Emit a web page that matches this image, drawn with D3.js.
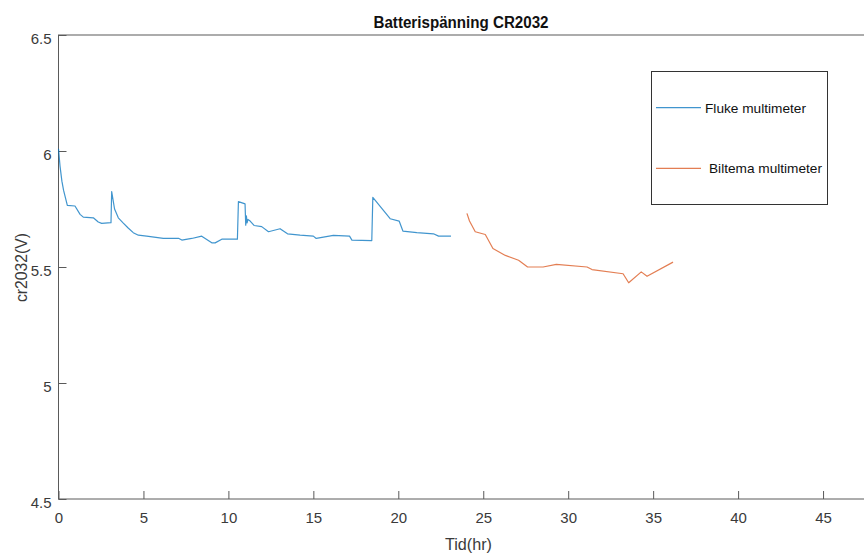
<!DOCTYPE html>
<html>
<head>
<meta charset="utf-8">
<script src="https://cdn.jsdelivr.net/npm/d3@7"></script>
<style>
  body { margin: 0; background: #fff; }
  text { font-family: "Liberation Sans", Arial, sans-serif; }
</style>
</head>
<body>
<script>
// Fluke multimeter readings (hours, volts)
let flukeT = [0, 0.09, 0.2, 0.3, 0.52, 0.97, 1.27, 1.46, 2.05, 2.34, 2.54, 3.09, 3.13, 3.3, 3.52, 3.8, 4.1, 4.4, 4.7, 5.19,
  6.17, 7.06, 7.26, 7.84, 8.43, 9.02, 9.22, 9.61, 10.53, 10.59, 10.98, 11.02, 11.06, 11.1, 11.15,
  11.28, 11.51, 11.96, 12.36, 13.04, 13.48, 14.22, 15.0, 15.17, 16.18, 17.13, 17.27, 18.44, 18.5,
  19.52, 20.05, 20.27, 21.09, 22.07, 22.37, 23.1];
let flukeV = [6.01, 5.935, 5.87, 5.83, 5.766, 5.763, 5.727, 5.715, 5.712, 5.694, 5.688, 5.691, 5.825, 5.75, 5.712, 5.69, 5.668, 5.648, 5.637, 5.633,
  5.623, 5.624, 5.616, 5.623, 5.633, 5.604, 5.604, 5.62, 5.62, 5.782, 5.772, 5.68, 5.72, 5.69, 5.705,
  5.698, 5.679, 5.674, 5.652, 5.665, 5.643, 5.637, 5.633, 5.623, 5.636, 5.633, 5.616, 5.614, 5.8,
  5.708, 5.698, 5.655, 5.648, 5.643, 5.633, 5.633];

// Biltema multimeter readings
let biltemaT = [24.04, 24.19, 24.53, 25.12, 25.57, 26.3, 27.08, 27.61, 28.52, 29.3, 31.11, 31.4, 33.23, 33.56, 34.3, 34.64, 36.17];
let biltemaV = [5.731, 5.698, 5.652, 5.64, 5.58, 5.55, 5.529, 5.5, 5.5, 5.511, 5.5, 5.489, 5.471, 5.432, 5.479, 5.46, 5.521];

let xTicks = [0, 5, 10, 15, 20, 25, 30, 35, 40, 45];
let yTicks = [4.5, 5, 5.5, 6, 6.5];
let seriesNames = ["Fluke multimeter", "Biltema multimeter"];
let seriesColors = ["#0072BD", "#D95319"];

let w = 864, h = 553;
let margin = {top: 35, left: 58.5, bottom: 54};
let plotW = 849.5;

let svg = d3.select("body").append("svg").attr("width", w).attr("height", h);

let x = d3.scaleLinear().domain([0, 50]).range([margin.left, margin.left + plotW]);
let y = d3.scaleLinear().domain([4.5, 6.5]).range([h - margin.bottom, margin.top]);

// axes box
svg.append("rect")
  .attr("x", x(0)).attr("y", y(6.5))
  .attr("width", x(50) - x(0)).attr("height", y(4.5) - y(6.5))
  .attr("fill", "none").attr("stroke", "#5a5a5a").attr("stroke-width", 1);

let xAxis = svg.append("g")
  .attr("transform", "translate(0," + y(4.5) + ")")
  .call(d3.axisBottom(x).tickValues(xTicks).tickSizeInner(-8).tickSizeOuter(0).tickPadding(13));
let yAxis = svg.append("g")
  .attr("transform", "translate(" + x(0) + ",0)")
  .call(d3.axisLeft(y).tickValues(yTicks).tickSizeInner(-8).tickSizeOuter(0).tickPadding(7).tickFormat(d3.format("~g")));

[xAxis, yAxis].forEach(function (a) {
  a.select(".domain").remove();
  a.selectAll(".tick line").attr("stroke", "#5a5a5a");
  a.selectAll(".tick text").attr("fill", "#3a3a3a").attr("font-size", "15px")
    .attr("font-family", "'Liberation Sans', Arial, sans-serif");
});
yAxis.selectAll(".tick text").attr("dy", "0.55em");

// lines
let line = d3.line().x(function (d) { return x(d[0]); }).y(function (d) { return y(d[1]); });
let flukeData = flukeT.map(function (t, i) { return [t, flukeV[i]]; });
let biltemaData = biltemaT.map(function (t, i) { return [t, biltemaV[i]]; });

svg.append("path").datum(flukeData).attr("d", line)
  .attr("fill", "none").attr("stroke", seriesColors[0]).attr("stroke-width", 1.2).attr("stroke-opacity", 0.75)
  .attr("stroke-linejoin", "round");
svg.append("path").datum(biltemaData).attr("d", line)
  .attr("fill", "none").attr("stroke", seriesColors[1]).attr("stroke-width", 1.2).attr("stroke-opacity", 0.75)
  .attr("stroke-linejoin", "round");

// title and labels
svg.append("text").text("Batterispänning CR2032")
  .attr("x", 461).attr("y", 28).attr("text-anchor", "middle")
  .attr("font-size", "16px").attr("font-weight", "bold").attr("fill", "#111")
  .attr("textLength", 175).attr("lengthAdjust", "spacingAndGlyphs");

svg.append("text").text("Tid(hr)")
  .attr("x", 468.5).attr("y", 550).attr("text-anchor", "middle")
  .attr("font-size", "16px").attr("fill", "#3a3a3a")
  .attr("textLength", 47).attr("lengthAdjust", "spacingAndGlyphs");

svg.append("text").text("cr2032(V)")
  .attr("transform", "translate(27,267.5) rotate(-90)").attr("text-anchor", "middle")
  .attr("font-size", "16px").attr("fill", "#3a3a3a")
  .attr("textLength", 69).attr("lengthAdjust", "spacingAndGlyphs");

// legend
let legend = svg.append("g");
legend.append("rect")
  .attr("x", 651.5).attr("y", 71.5).attr("width", 176).attr("height", 133)
  .attr("fill", "#fff").attr("stroke", "#333").attr("stroke-width", 1);

let legY = [107.7, 168.3], legTextX = [705, 709], legTextW = [101, 113];
seriesNames.forEach(function (name, i) {
  legend.append("line")
    .attr("x1", 656).attr("x2", 701).attr("y1", legY[i]).attr("y2", legY[i])
    .attr("stroke", seriesColors[i]).attr("stroke-width", 1.2).attr("stroke-opacity", 0.75);
  legend.append("text").text(name)
    .attr("x", legTextX[i]).attr("y", legY[i] + 5)
    .attr("font-size", "13px").attr("fill", "#111")
    .attr("textLength", legTextW[i]).attr("lengthAdjust", "spacingAndGlyphs");
});
</script>
</body>
</html>
